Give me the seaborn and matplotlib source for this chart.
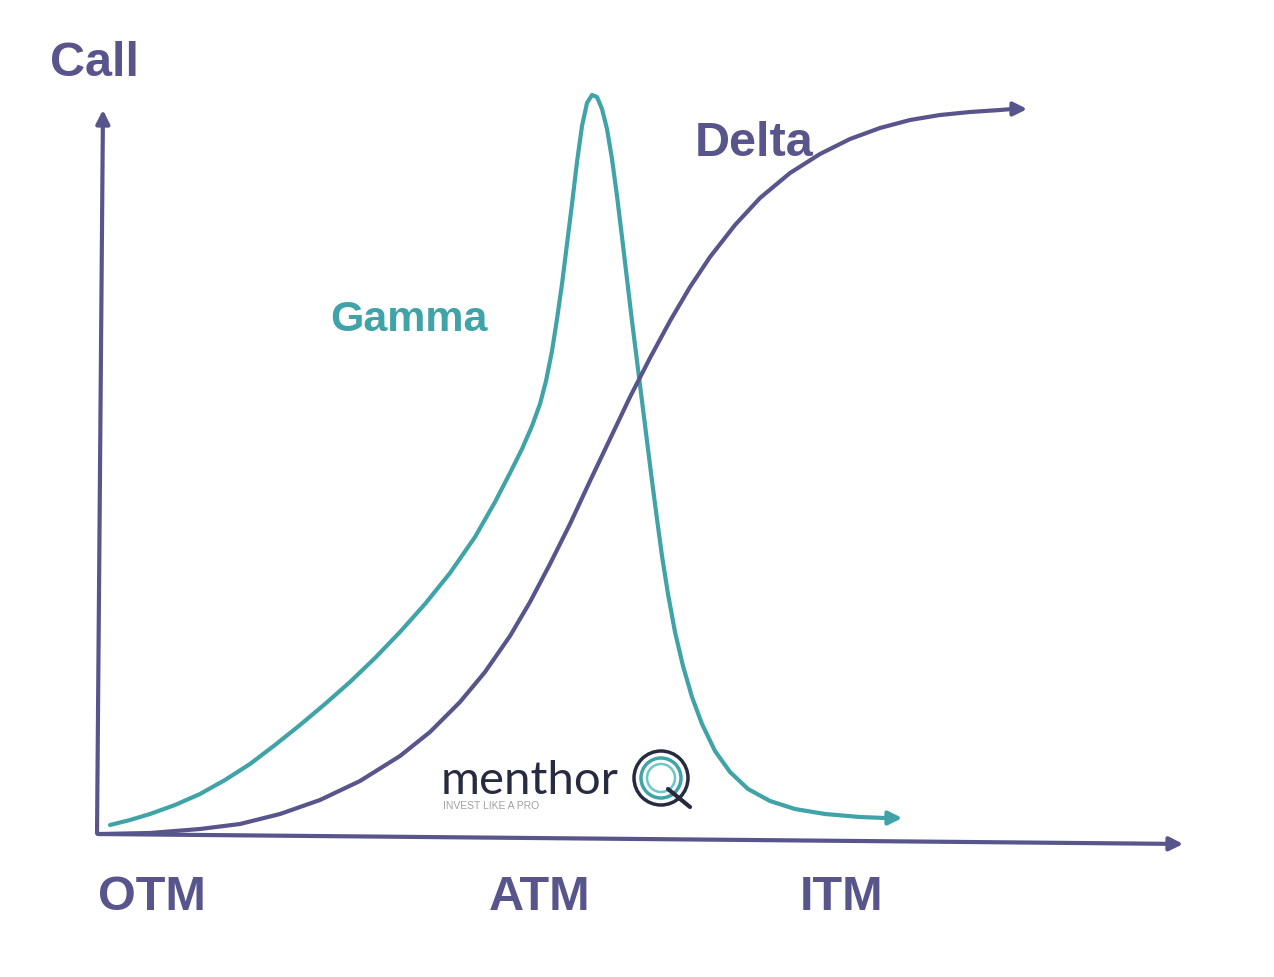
import matplotlib
matplotlib.use("Agg")
import matplotlib.pyplot as plt
import seaborn as sns
import pandas as pd
from matplotlib.patches import Circle

# curve points (x to the right, y downward like the image)
gamma_x = [110, 130, 150, 175, 200, 225, 250, 275, 300, 325, 350, 375, 400, 425, 450, 475, 495, 510, 522,
           532, 540, 546, 552, 557, 562, 567, 572, 577, 582, 587, 592, 597, 602, 607, 612, 617, 622, 627,
           632, 637, 642, 647, 652, 657, 662, 668, 675, 683, 692, 702, 715, 730, 748, 770, 795, 825, 860, 885]
gamma_y = [826, 821, 815, 806, 795, 781, 765, 746, 726, 705, 683, 659, 633, 605, 574, 538, 503, 474, 450,
           427, 405, 382, 352, 320, 285, 245, 205, 163, 127, 104, 96, 98, 110, 130, 160, 197, 238, 280,
           322, 362, 402, 442, 482, 520, 557, 595, 633, 667, 698, 725, 752, 773, 790, 802, 810, 815, 818, 819]
delta_x = [100, 150, 200, 240, 280, 320, 360, 400, 430, 460, 485, 510, 530, 550, 570, 590, 610, 630, 650,
           670, 690, 710, 735, 760, 790, 820, 850, 880, 910, 940, 970, 1000, 1012]
delta_y = [835, 834, 830, 825, 815, 801, 782, 757, 733, 703, 673, 637, 603, 565, 525, 482, 440, 398, 359,
           322, 288, 258, 226, 199, 174, 155, 140, 129, 121, 116, 113, 111, 110]

x_labels = ["OTM", "ATM", "ITM"]
x_label_pos = [152, 540, 842]

purple = "#58558c"
teal = "#3fa3a7"
navy = "#262b40"

sns.set_theme(style="white")
plt.rcParams["font.family"] = ["Liberation Sans", "DejaVu Sans"]

fig = plt.figure(figsize=(12.74, 9.78), dpi=100)
ax = fig.add_axes([0, 0, 1, 1])
ax.set_xlim(0, 1274)
ax.set_ylim(978, 0)
ax.axis("off")

gamma = pd.DataFrame({"x": gamma_x, "y": gamma_y})
delta = pd.DataFrame({"x": delta_x, "y": delta_y})

sns.lineplot(data=gamma, x="x", y="y", sort=False, color=teal, linewidth=3, ax=ax,
             solid_capstyle="round", solid_joinstyle="round")
sns.lineplot(data=delta, x="x", y="y", sort=False, color=purple, linewidth=3, ax=ax,
             solid_capstyle="round", solid_joinstyle="round")

# arrow heads at the curve ends
ax.annotate("", xy=(905, 819), xytext=(gamma_x[-1], gamma_y[-1]),
            arrowprops=dict(arrowstyle="-|>", color=teal, lw=3, mutation_scale=20))
ax.annotate("", xy=(1030, 110), xytext=(delta_x[-1], delta_y[-1]),
            arrowprops=dict(arrowstyle="-|>", color=purple, lw=3, mutation_scale=20))

# axes drawn as arrows
ax.annotate("", xy=(103, 108), xytext=(97, 837),
            arrowprops=dict(arrowstyle="-|>", color=purple, lw=3, mutation_scale=20))
ax.annotate("", xy=(1186, 845), xytext=(95, 835),
            arrowprops=dict(arrowstyle="-|>", color=purple, lw=3, mutation_scale=20))

ax.text(50, 64, "Call", color=purple, fontsize=35, fontweight="bold", va="center", ha="left")
ax.text(695, 143, "Delta", color=purple, fontsize=35, fontweight="bold", va="center", ha="left")
ax.text(330, 320, "Gamma", color=teal, fontsize=31, fontweight="bold", va="center", ha="left")
for lab, xp in zip(x_labels, x_label_pos):
    ax.text(xp, 898, lab, color=purple, fontsize=35, fontweight="bold", va="center", ha="center")

# watermark logo
ax.text(441, 781, "menthor", color=navy, fontsize=34, va="center", ha="left",
        family=["Lato", "DejaVu Sans"])
ax.text(443, 806, "INVEST LIKE A PRO", color="#a0a0aa", fontsize=7.5, va="center", ha="left")
ax.add_patch(Circle((661, 779), 27, fill=False, edgecolor=navy, lw=2.5))
ax.add_patch(Circle((661, 779), 20, fill=False, edgecolor=teal, lw=2.5))
ax.add_patch(Circle((661, 779), 14, fill=False, edgecolor="#6cc7c8", lw=1.8))
ax.plot([668, 690], [790, 808], color=navy, lw=3)

fig.savefig("out.png", dpi=100, facecolor="white")
